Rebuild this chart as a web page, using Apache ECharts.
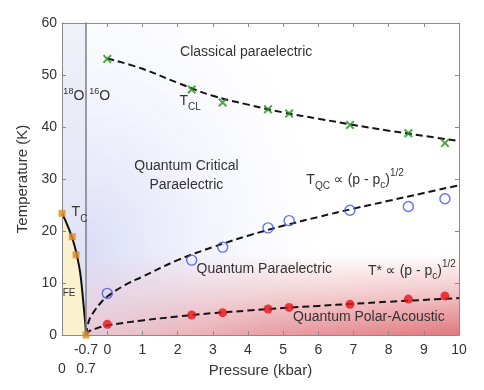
<!DOCTYPE html>
<html><head><meta charset="utf-8">
<script src="https://cdn.jsdelivr.net/npm/echarts@6/dist/echarts.min.js"></script>
<style>html,body{margin:0;padding:0;background:#fff}#c{width:484px;height:390px}</style>
</head><body><div id="c"></div>
<script>
// ---------------- data ----------------
const PC = -0.7;            // critical pressure (kbar)
const PC_AXIS = -0.605;     // where pc sits on the broken pressure axis
const yTicks = [0, 10, 20, 30, 40, 50, 60];
const xTicksMain = [0, 1, 2, 3, 4, 5, 6, 7, 8, 9, 10];
const xTicksO18 = [0, 0.7];

// measured points (16O, pressure in kbar)
const pMeas = [0, 2.4, 3.28, 4.57, 5.17, 6.9, 8.56, 9.6];
const tCL   = [53.1, 47.2, 44.7, 43.4, 42.6, 40.4, 38.8, 36.9];
const tQC   = [8.0, 14.4, 16.9, 20.6, 22.0, 24.0, 24.7, 26.2];
const tStar = [2.05, 3.85, 4.3, 5.0, 5.3, 5.9, 6.9, 7.5];

// dashed guide curves
const fitCLp = [0, 1, 2, 3, 4, 5, 6, 7, 8, 9, 10];
const fitCLt = [53.2, 51.2, 48.5, 46.0, 44.3, 42.8, 41.6, 40.4, 39.3, 38.3, 37.3];
const fitQCp = [-0.7, -0.6, -0.45, -0.2, 0, 0.5, 1, 2, 3, 4, 5, 6, 7, 8, 9, 10];
const fitQCt = [0, 2.8, 4.4, 6.3, 7.4, 9.6, 11.2, 14.4, 16.9, 19.1, 21.0, 22.7, 24.3, 25.8, 27.3, 28.8];
const fitStarP = [-0.7, -0.6, -0.4, 0, 1, 2, 3, 4, 5, 6, 7, 8, 9, 10];
const fitStarT = [0, 0.7, 1.2, 1.85, 2.8, 3.55, 4.2, 4.7, 5.2, 5.6, 6.0, 6.4, 6.75, 7.1];

// 18O panel
const o18P = [0, 0.30, 0.41, 0.7];
const o18T = [23.4, 18.9, 15.4, 0];
const tcLineP = [0, 0.1, 0.2, 0.3, 0.4, 0.5, 0.55, 0.6, 0.65, 0.68, 0.7];
const tcLineT = [23.4, 22.0, 20.4, 18.6, 16.3, 13.2, 11.0, 7.8, 4.3, 2.2, 0];

// annotations: [grid, x (axis units), T, align, fragments [text, size, dy]]
const notes = [
  [1, 2.07, 54.4, 'left', [['Classical paraelectric', 14, 0]]],
  [0, 0.04, 46.0, 'left', [['18', 9, -4], ['O', 14, 0]]],
  [1, -0.51, 46.0, 'left', [['16', 9, -4], ['O', 14, 0]]],
  [1, 2.05, 44.9, 'left', [['T', 14, 0], ['CL', 10, 6]]],
  [1, 2.25, 32.4, 'center', [['Quantum Critical', 14, 0]]],
  [1, 2.25, 28.8, 'center', [['Paraelectric', 14, 0]]],
  [1, 5.66, 29.8, 'left', [['T', 14, 0], ['QC', 10, 6], [' \u221D (p - p', 14, 0], ['c', 10, 5], [')', 14, 0], ['1/2', 10, -7]]],
  [0, 0.28, 23.7, 'left', [['T', 14, 0], ['C', 10, 7]]],
  [0, 0.02, 8.1, 'left', [['FE', 10, 0]]],
  [1, 2.54, 12.6, 'left', [['Quantum Paraelectric', 14, 0]]],
  [1, 7.41, 12.2, 'left', [['T* \u221D (p - p', 14, 0], ['c', 10, 5], [')', 14, 0], ['1/2', 10, -7]]],
  [1, 5.28, 3.4, 'left', [['Quantum Polar-Acoustic', 14, 0]]]
];
const yTitle = 'Temperature (K)';
const xTitle = 'Pressure (kbar)';

// ---------------- chart ----------------
const FONT = '"Liberation Sans", Arial, "DejaVu Sans", sans-serif';
const TXT = '#333';
const AX = '#8a8a8a';
const G0 = {left: 62, top: 23, width: 24, height: 312};
const G1 = {left: 86, top: 23, width: 373, height: 312};

const xPos = p => (p < 0 ? p * PC_AXIS / PC : p);
const pairs = (xs, ys, f) => xs.map((x, i) => [f ? f(x) : x, ys[i]]);
const CROSS = 'path://M0,1.6L1.6,0L5,3.4L8.4,0L10,1.6L6.6,5L10,8.4L8.4,10L5,6.6L1.6,10L0,8.4L3.4,5Z';

const chart = echarts.init(document.getElementById('c'), null, {renderer: 'canvas'});

const dashed = {color: '#141414', width: 2, type: [7, 4]};
const option = {
  animation: false,
  backgroundColor: '#fff',
  grid: [
    Object.assign({show: true, borderWidth: 0,
      backgroundColor: new echarts.graphic.LinearGradient(0, 0, 0, 1, [
        {offset: 0, color: '#f0f0f8'}, {offset: 0.5, color: '#e6e7f6'}, {offset: 1, color: '#dcdff4'}])}, G0),
    Object.assign({show: false}, G1)
  ],
  xAxis: [
    {gridIndex: 0, type: 'value', min: 0, max: 0.7, position: 'bottom', z: 5,
      axisLine: {show: true, onZero: false, lineStyle: {color: AX}},
      axisTick: {show: false},
      axisLabel: {show: true, customValues: xTicksO18, margin: 27, fontSize: 14, color: TXT, fontFamily: FONT,
        formatter: v => String(v)},
      splitLine: {show: false}},
    {gridIndex: 0, type: 'value', min: 0, max: 0.7, position: 'top', z: 5,
      axisLine: {show: true, onZero: false, lineStyle: {color: AX}},
      axisTick: {show: false}, axisLabel: {show: false}, splitLine: {show: false}},
    {gridIndex: 1, type: 'value', min: PC_AXIS, max: 10, position: 'bottom', z: 5,
      axisLine: {show: true, onZero: false, lineStyle: {color: AX}},
      axisTick: {show: true, inside: true, length: 4, customValues: xTicksMain, lineStyle: {color: AX}},
      axisLabel: {show: true, customValues: [PC_AXIS].concat(xTicksMain), margin: 8, fontSize: 14, color: TXT, fontFamily: FONT,
        formatter: v => (Math.abs(v - PC_AXIS) < 1e-9 ? String(PC) : String(v))},
      splitLine: {show: false}},
    {gridIndex: 1, type: 'value', min: PC_AXIS, max: 10, position: 'top', z: 5,
      axisLine: {show: true, onZero: false, lineStyle: {color: AX}},
      axisTick: {show: true, inside: true, length: 4, customValues: xTicksMain, lineStyle: {color: AX}},
      axisLabel: {show: false}, splitLine: {show: false}}
  ],
  yAxis: [
    {gridIndex: 0, type: 'value', min: 0, max: 60, interval: 10, position: 'left', z: 5,
      name: yTitle, nameLocation: 'middle', nameGap: 32, nameRotate: 90,
      nameTextStyle: {fontSize: 15, color: TXT, fontFamily: FONT},
      axisLine: {show: true, onZero: false, lineStyle: {color: AX}},
      axisTick: {show: true, inside: true, length: 4, lineStyle: {color: AX}},
      axisLabel: {show: true, margin: 5, fontSize: 14, color: TXT, fontFamily: FONT,
        formatter: v => (yTicks.indexOf(v) >= 0 ? String(v) : '')},
      splitLine: {show: false}},
    {gridIndex: 1, type: 'value', min: 0, max: 60, interval: 10, position: 'left', z: 5,
      axisLine: {show: true, onZero: false, lineStyle: {color: '#7e7e86', width: 1.5}},
      axisTick: {show: false}, axisLabel: {show: false}, splitLine: {show: false}},
    {gridIndex: 1, type: 'value', min: 0, max: 60, interval: 10, position: 'right', z: 5,
      axisLine: {show: true, onZero: false, lineStyle: {color: AX}},
      axisTick: {show: true, inside: true, length: 4, lineStyle: {color: AX}},
      axisLabel: {show: false}, splitLine: {show: false}}
  ],
  series: [
    {type: 'line', xAxisIndex: 0, yAxisIndex: 0, data: pairs(tcLineP, tcLineT), showSymbol: false,
      smooth: 0.3, lineStyle: {color: '#111', width: 2}, areaStyle: {color: '#fbf1cf', opacity: 1}, z: 2},
    {type: 'scatter', xAxisIndex: 0, yAxisIndex: 0, data: pairs(o18P, o18T), symbol: 'rect', symbolSize: 7,
      itemStyle: {color: '#e0891f'}, z: 8},
    {type: 'line', xAxisIndex: 2, yAxisIndex: 1, data: pairs(fitCLp, fitCLt, xPos), showSymbol: false,
      smooth: 0.4, lineStyle: dashed, z: 3},
    {type: 'line', xAxisIndex: 2, yAxisIndex: 1, data: pairs(fitQCp, fitQCt, xPos), showSymbol: false,
      smooth: 0.4, lineStyle: dashed, z: 3},
    {type: 'line', xAxisIndex: 2, yAxisIndex: 1, data: pairs(fitStarP, fitStarT, xPos), showSymbol: false,
      smooth: 0.4, lineStyle: dashed, z: 3},
    {type: 'scatter', xAxisIndex: 2, yAxisIndex: 1, data: pairs(pMeas, tCL, xPos), symbol: CROSS, symbolSize: 9,
      itemStyle: {color: '#25901c'}, z: 4},
    {type: 'scatter', xAxisIndex: 2, yAxisIndex: 1, data: pairs(pMeas, tQC, xPos), symbol: 'circle', symbolSize: 10,
      itemStyle: {color: 'rgba(0,0,0,0)', borderColor: '#3f4ff0', borderWidth: 1.4}, z: 4},
    {type: 'scatter', xAxisIndex: 2, yAxisIndex: 1, data: pairs(pMeas, tStar, xPos), symbol: 'circle', symbolSize: 9,
      itemStyle: {color: '#e8141a'}, z: 4}
  ]
};
chart.setOption(option);

// ---- background shading of the main panel ----
function buildBg(w, h) {
  const c = document.createElement('canvas'); c.width = w; c.height = h;
  const g = c.getContext('2d');
  g.save();
  g.translate(0, h * 0.72);
  g.scale(1, 1.2);
  const rg = g.createRadialGradient(0, 0, 0, 0, 0, 240);
  rg.addColorStop(0, 'rgba(212,215,246,0.85)');
  rg.addColorStop(0.45, 'rgba(226,228,248,0.5)');
  rg.addColorStop(1, 'rgba(242,243,252,0)');
  g.fillStyle = rg; g.fillRect(-10, -h, w + 20, 2 * h);
  g.restore();
  const t = document.createElement('canvas'); t.width = w; t.height = h;
  const r = t.getContext('2d');
  const lg = r.createLinearGradient(0, 0, w, 0);
  lg.addColorStop(0, 'rgba(232,160,165,0.45)');
  lg.addColorStop(0.5, 'rgba(226,125,132,0.75)');
  lg.addColorStop(1, 'rgba(222,108,115,0.92)');
  r.fillStyle = lg; r.fillRect(0, 0, w, h);
  r.globalCompositeOperation = 'destination-in';
  const vg = r.createLinearGradient(0, h * 0.74, 0, h);
  vg.addColorStop(0, 'rgba(0,0,0,0)');
  vg.addColorStop(0.5, 'rgba(0,0,0,0.45)');
  vg.addColorStop(1, 'rgba(0,0,0,1)');
  r.fillStyle = vg; r.fillRect(0, 0, w, h);
  g.drawImage(t, 0, 0);
  return c;
}

const mctx = document.createElement('canvas').getContext('2d');
function tw(t, s) { mctx.font = s + 'px ' + FONT; return mctx.measureText(t).width; }

const graphics = [{
  type: 'image', x: G1.left, y: G1.top, z: 0, silent: true,
  style: {image: buildBg(G1.width, G1.height), width: G1.width, height: G1.height}
}];
notes.forEach(n => {
  const [g, x, T, align, frags] = n;
  const finder = g === 0 ? {xAxisIndex: 0, yAxisIndex: 0} : {xAxisIndex: 2, yAxisIndex: 1};
  const pt = chart.convertToPixel(finder, [x, T]);
  const total = frags.reduce((s, f) => s + tw(f[0], f[1]), 0);
  let cx = align === 'center' ? pt[0] - total / 2 : pt[0];
  frags.forEach(f => {
    graphics.push({type: 'text', x: cx, y: pt[1] + f[2], z: 10, silent: true,
      style: {text: f[0], fontSize: f[1], fontFamily: FONT, fill: TXT, align: 'left', verticalAlign: 'middle'}});
    cx += tw(f[0], f[1]);
  });
});
graphics.push({type: 'text', x: (G0.left + G1.left + G1.width) / 2, y: 371, z: 10, silent: true,
  style: {text: xTitle, fontSize: 15, fontFamily: FONT, fill: TXT, align: 'center', verticalAlign: 'middle'}});
chart.setOption({graphic: graphics});
</script>
</body></html>
